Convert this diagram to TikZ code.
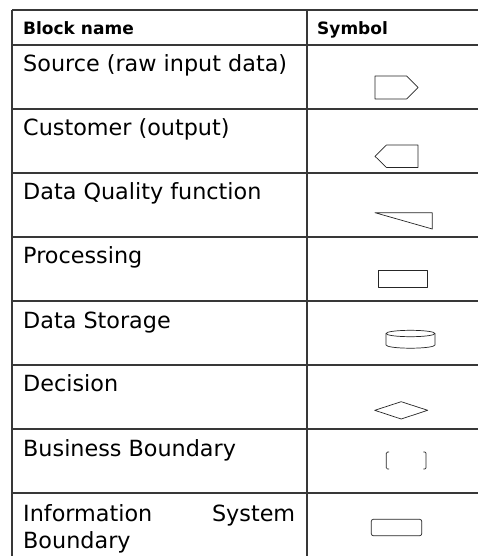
\documentclass[tikz,border=0pt]{standalone}
\usepackage{fontspec}
\setmainfont{DejaVu Sans}
\begin{document}
\begin{tikzpicture}[x=1pt,y=-1pt,
  rule/.style={draw=black!78,line width=1.3pt},
  symb/.style={draw=black!85,line width=0.7pt,line join=round},
  cellname/.style={anchor=base west,inner sep=0pt,font=\fontsize{22.3}{27}\selectfont},
  headtxt/.style={anchor=base west,inner sep=0pt,font=\fontsize{17}{20}\selectfont\bfseries}]
\useasboundingbox (0,0) rectangle (478,556);
\fill[white] (0,0) rectangle (478,556);

% table rules: top, header bottom and one rule per row
\draw[rule] (12,10) -- (478,10);
\foreach \yy in {45,109,173,237,301,365,429,493}
  \draw[rule] (12,\yy) -- (478,\yy);
\draw[rule] (12,10) -- (12,556);
\draw[rule] (307,10) -- (307,556);

% header
\node[headtxt] (hname) at (23,35) {Block name};
\node[headtxt] (hsym) at (317,35) {Symbol};

% block names
\node[cellname] (nsrc) at (23,72) {Source (raw input data)};
\node[cellname] (ncust) at (23,136) {Customer (output)};
\node[cellname] (ndq) at (23,199) {Data Quality function};
\node[cellname] (nproc) at (23,263) {Processing};
\node[cellname] (nstore) at (23,328) {Data Storage};
\node[cellname] (ndec) at (23,391) {Decision};
\node[cellname] (nbus) at (23,456) {Business Boundary};
\node[anchor=north west,inner sep=0pt,text width=272pt,align=justify,
      font=\fontsize{22.3}{27}\selectfont] (nis) at (23,504.5)
  {Information System Boundary};

% symbols
% source: pentagon pointing right
\draw[symb] (375,76) -- (406.5,76) -- (418,87.5) -- (406.5,99) -- (375,99) -- cycle;
% customer: pentagon pointing left
\draw[symb] (418,145) -- (386.5,145) -- (375,156.3) -- (386.5,167.5) -- (418,167.5) -- cycle;
% data quality: wedge
\draw[symb] (375,212.7) -- (432.3,212.7) -- (432.3,229) -- cycle;
% processing: rectangle
\draw[symb] (378.7,270) rectangle (427,287.7);
% data storage: cylinder
\draw[symb] (386,333.5) -- (386,345) arc[start angle=180,end angle=0,x radius=24.5,y radius=3.2] -- (435,333.5);
\draw[symb] (410.5,333.5) ellipse[x radius=24.5,y radius=3.2];
% decision: diamond
\draw[symb] (374.7,410.3) -- (401.2,401.7) -- (427.7,410.3) -- (401.2,419) -- cycle;
% business boundary: pair of brackets
\draw[symb,rounded corners=1.2pt] (389,452) -- (386.3,452) -- (386.3,469) -- (389,469);
\draw[symb,rounded corners=1.2pt] (423.3,452) -- (426,452) -- (426,469) -- (423.3,469);
% information system boundary: rounded rectangle
\draw[symb,rounded corners=2pt] (371.3,519.3) rectangle (421.7,535.7);
\end{tikzpicture}
\end{document}
